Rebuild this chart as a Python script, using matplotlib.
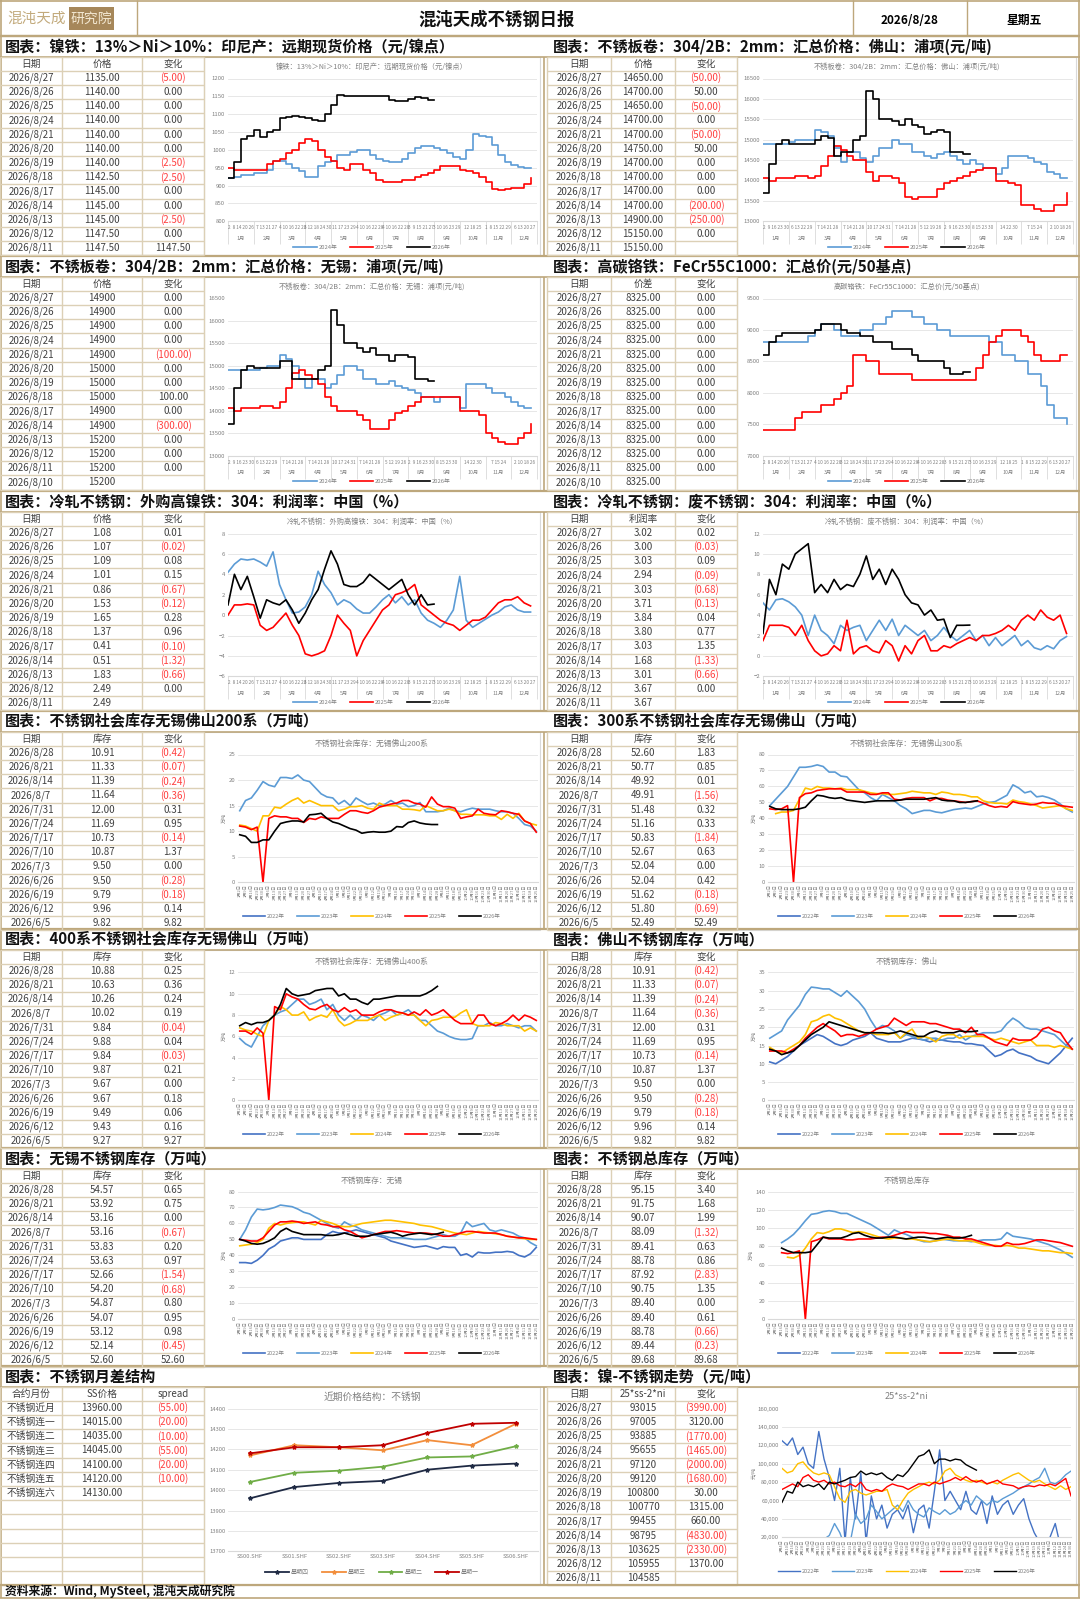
import numpy as np
import pandas as pd
import matplotlib
matplotlib.use('Agg')
import matplotlib.pyplot as plt
from matplotlib.patches import Rectangle
from matplotlib.ticker import FuncFormatter

plt.rcParams['font.family'] = ['Noto Sans CJK SC', 'DejaVu Sans']

# ---------------- data: price charts (weekly, 4 points per month) ----------------
nife_2024 = [920, 925, 930, 930, 935, 935, 945, 970, 970, 960, 950, 940,
             925, 925, 955, 965, 970, 985, 985, 995, 1000, 1000, 985, 975,
             970, 965, 965, 975, 990, 1005, 1010, 1010, 1005, 1000, 990, 980,
             975, 1000, 1045, 1040, 1035, 1015, 985, 965, 958, 952, 950, 950]
nife_2025 = [950, 945, 945, 945, 945, 945, 960, 970, 975, 990, 1000, 1020,
             1030, 1025, 1000, 980, 970, 950, 945, 960, 960, 945, 935, 915,
             910, 910, 910, 915, 915, 925, 930, 935, 945, 955, 955, 955,
             945, 940, 935, 925, 910, 890, 888, 890, 893, 893, 905, 922]
nife_2026 = [920, 965, 1030, 1040, 1055, 1035, 1050, 1055, 1090, 1092, 1095, 1093,
             1090, 1085, 1080, 1100, 1125, 1155, 1150, 1150, 1150, 1152, 1152, 1150,
             1150, 1140, 1138, 1138, 1142, 1148, 1145, 1140, 1140]

fs_2024 = [14900, 14900, 14900, 14900, 14950, 15000, 15000, 15000, 15250, 15200, 15100, 14800,
           14450, 14700, 14700, 14550, 14450, 14600, 14800, 14800, 15000, 14900, 14900, 14700,
           14700, 14600, 14550, 14650, 14700, 14600, 14500, 14400, 14500, 14400, 14300, 14300,
           14150, 14300, 14600, 14600, 14600, 14550, 14450, 14400, 14200, 14150, 14050, 14050]
fs_2025 = [14050, 14000, 14050, 14050, 14050, 14100, 14100, 14050, 14100, 14350, 14600, 14850,
           14750, 14600, 14500, 14500, 14200, 14000, 14100, 14100, 14050, 13950, 13600, 13550,
           13600, 13600, 13600, 13800, 13950, 14000, 14050, 14100, 14200, 14250, 14300, 14300,
           14000, 14000, 13950, 13900, 13400, 13400, 13300, 13250, 13250, 13400, 13400, 13700]
fs_2026 = [13700, 14400, 14900, 15000, 14900, 14900, 14900, 14900, 15000, 15100, 15050, 14600,
           14700, 14700, 15000, 15100, 16200, 16000, 15500, 15500, 15450, 15350, 15500, 15350,
           15300, 15150, 15200, 15250, 15200, 14700, 14700, 14650, 14650]

wx_2024 = [14900, 14900, 14900, 14900, 14900, 14950, 15000, 15000, 15250, 15150, 15000, 14700,
           14500, 14700, 14700, 14500, 14600, 14800, 15000, 15000, 14900, 14700, 14700, 14600,
           14600, 14650, 14550, 14500, 14450, 14400, 14300, 14300, 14200, 14300, 14300, 14300,
           14050, 14600, 14600, 14600, 14500, 14400, 14400, 14300, 14200, 14100, 14050, 14050]
wx_2025 = [14050, 14000, 14050, 14050, 14050, 14100, 14100, 14050, 14200, 14500, 14850, 14900,
           14800, 14700, 14600, 14300, 14100, 14000, 14000, 14000, 13900, 13800, 13600, 13600,
           13600, 13800, 13950, 14000, 14100, 14200, 14300, 14300, 14300, 14300, 14300, 14300,
           14000, 14000, 14000, 13900, 13500, 13400, 13300, 13250, 13250, 13400, 13500, 13700]
wx_2026 = [13700, 14500, 14900, 15000, 14950, 14950, 14950, 14950, 15100, 15100, 14700, 14700,
           14700, 14700, 14900, 15000, 16250, 15900, 15500, 15500, 15400, 15300, 15400, 15250,
           15250, 15100, 15250, 15250, 15200, 14700, 14700, 14650, 14650]

cr_2024 = [8800, 8800, 8800, 8800, 8800, 8800, 8800, 8900, 9000, 9100, 9100, 9000,
           8900, 8900, 8900, 9000, 9000, 9100, 9100, 9200, 9300, 9300, 9300, 9200,
           9200, 9100, 9100, 9000, 9000, 8900, 8900, 8900, 8900, 8900, 8900, 8800,
           8800, 8600, 8600, 8500, 8500, 8300, 8300, 8100, 7800, 7600, 7600, 7500]
cr_2025 = [7400, 7400, 7400, 7400, 7400, 7600, 7700, 7700, 7700, 7800, 7800, 7900,
           8000, 8100, 8600, 8600, 8500, 8500, 8300, 8300, 8300, 8300, 8300, 8200,
           8200, 8200, 8200, 8200, 8200, 8200, 8200, 8200, 8200, 8400, 8600, 8800,
           8900, 9000, 9000, 9000, 8900, 8800, 8600, 8500, 8500, 8500, 8600, 8600]
cr_2026 = [8600, 8800, 8900, 8950, 8950, 8950, 8950, 8950, 9000, 9100, 9100, 9100,
           9000, 8950, 8950, 8900, 8900, 8800, 8800, 8800, 8700, 8700, 8700, 8600,
           8500, 8500, 8500, 8500, 8400, 8300, 8300, 8325, 8325]

pf_2024 = [4.2, 5.0, 5.5, 5.4, 5.5, 5.2, 4.8, 6.2, 3.0, 1.5, 0.2, 0.3,
           0.8, 2.0, 4.3, 3.0, 2.2, 1.0, 1.5, 1.2, 0.6, 0.2, 0.2, 0.8,
           1.5, 2.0, 1.2, 1.8, 1.0, 1.5, 0.2, -0.5, -0.8, -1.2, -0.5, 0.5,
           3.8, -0.5, -1.2, -0.8, -0.4, 0.0, 0.3, 0.8, 1.0, 0.5, 0.3, 0.3]
pf_2025 = [0.0, 1.0, 1.0, 1.1, 1.0, -1.0, -1.5, -1.2, -0.5, 0.2, -1.0, -2.0,
           -3.8, -4.0, -3.8, -3.5, -2.0, 0.0, -0.8, -1.5, -4.0, -2.5, -1.5, -0.5,
           0.5, 1.0, 2.0, 2.2, 2.5, 3.0, 1.0, 0.5, 0.0, -0.5, -0.8, -1.0,
           -1.5, -1.0, -0.5, -0.5, -0.2, 0.5, 1.2, 1.5, 1.5, 1.8, 1.2, 0.9]
pf_2026 = [1.0, 4.0, 2.5, 3.8, 1.8, -0.3, 1.5, 1.2, 1.0, 1.5, 0.5, -0.8,
           0.2, 1.5, 2.5, 4.5, 6.3, 5.0, 3.0, 2.8, 2.8, 3.2, 4.0, 3.5,
           3.0, 2.5, 3.0, 3.5, 2.0, 1.0, 2.0, 1.0, 1.08]

ps_2024 = [5.2, 4.5, 5.5, 5.6, 5.3, 4.8, 4.0, 2.0, 4.0, 2.5, 2.0, 1.2,
           3.0, 2.5, 2.8, 3.0, 1.5, 2.5, 3.5, 2.5, 3.6, 2.0, 3.0, 2.5,
           2.0, 2.5, 1.5, 2.0, 2.8, 2.0, 1.5, 2.0, 2.5, 1.5, 2.0, 1.0,
           1.8, 1.0, 1.5, 2.0, 1.0, 1.5, 0.8, 0.6, 1.0, 0.7, 1.5, 1.9]
ps_2025 = [1.5, 3.0, 3.0, 3.0, 2.8, 2.0, 3.0, 1.5, 0.5, 0.0, 0.2, 1.0,
           0.5, 3.5, 0.2, 0.8, 1.0, 0.5, 0.3, 1.5, 1.0, -0.5, 1.0, 0.2,
           1.5, 2.0, 0.5, 0.5, 1.0, 0.8, 1.2, 1.5, 1.8, 1.5, 2.0, 2.0,
           2.2, 2.5, 3.0, 2.5, 3.5, 4.0, 3.5, 4.5, 3.8, 3.5, 4.0, 2.2]
ps_2026 = [2.2, 7.5, 6.0, 9.0, 8.5, 10.0, 10.5, 11.0, 6.2, 7.0, 6.2, 7.5,
           6.5, 7.0, 6.8, 8.0, 9.8, 7.5, 8.5, 7.0, 8.5, 7.5, 6.0, 5.2,
           5.0, 4.0, 4.5, 3.5, 3.6, 1.8, 3.0, 3.0, 3.02]

# ---------------- data: weekly inventories (万吨) ----------------
nan = np.nan
i200_2022 = []
i200_2023 = [14, 16, 16.5, 18, 19.7, 19, 18.7, 20.5, 20.5, 20.3, 21, 20, 19.7, 18.5, 17.3, 16.7,
             16.5, 15.3, 16, 15, 16.5, 15.8, 15.2, 15.5, 15, 15.3, 16, 15.3, 15.5, 14.8, 15, 15.6,
             13.8, 13.8, 13.8, 14, 14.5, 14, 13.8, 14.2, 14.5, 14.3, 14.3, 14.3, 14, 13.8, 13.8, 13.5,
             12.5, 11.3, 11, 10]
i200_2024 = [11.2, 11, 10.5, 10, 13, 13, 14.7, 14.5, 15.3, 16, 16.5, 15.5, 16, 15.5, 15, 15,
             15, 14, 14.3, 14.8, 14.8, 15, 14.5, 14.3, 15.5, 15, 15, 15, 14.3, 14.3, 14.2, 14,
             15, 14.5, 14, 14, 14.3, 14, 13.3, 13.3, 13.2, 13.2, 13.2, 13, 13, 12.3, 13.3, 12.5,
             13.5, 12, 11.5, 11.2]
i200_2025 = [11, 10.8, 10.3, 10.8, 0, 12.5, 13, 12.8, 12.8, 12.5, 12.5, 11.7, 12.5, 12.3, 12.8, 12.5,
             12.5, 12.5, 13.3, 14, 14, 13.7, 13.5, 14, 14.7, 15, 15.3, 15.5, 16, 16, 15.5, 15.3,
             14.7, 16.7, 15.3, 14.8, 14.8, 14.5, 12.5, 12.8, 13, 14.3, 13.5, 13.3, 13.2, 14, 13.8, 13.5,
             13.3, 12, 11.5, 9.8]
i200_2026 = [9.3, 9, 7.8, 7.8, 8.3, 8.3, 10, 11.5, 11.8, 12, 12, 11.8, 13.2, 13.3, 13.5, 12.5,
             11.8, 11.5, 11, 10.5, 10.2, 9.6, 9.8, 9.9, 9.8, 9.8, 10, 10.9, 10.8, 11.7, 12, 11.6,
             11.4, 11.3, 11.3]

i300_2022 = []
i300_2023 = [48, 52, 56, 60, 66, 72, 72, 72.5, 73.5, 72.5, 69, 69, 66.5, 66, 62, 58,
             56, 53, 51, 55, 53, 51, 48, 46, 43, 44, 45, 45, 44, 43.5, 44.5, 45.5,
             46, 46.5, 46, 47.5, 49, 50, 50.5, 52.5, 54.5, 61, 59, 56, 57, 53.5, 54, 53,
             51.5, 49, 46, 44]
i300_2024 = [nan, 43, 44, 44, 45, 52, 59, 58, 60, 59, 59, 58.5, 59, 58, 58, 58,
             57, 56, 55.5, 55.5, 55, 55, 55.5, 56, 57, 56.5, 56, 56, 55, 56.5, 56, 55,
             55, 54.5, 53.5, 53.5, 51, 50, 49.5, 49.5, 49, 51.5, 50.5, 50, 49, 48, 46.5, 47,
             47.5, 48, 46, 45]
i300_2025 = [46, 45.5, 46, 48, 0, 53, 55.5, 56, 57.5, 58, 58.5, 58.5, 58.5, 56.5, 56.5, 56.5,
             56.5, 55, 55, 56, 56, 52, 51.5, 52.5, 53, 53, 53, 51, 52.5, 52.5, 51.5, 51,
             50.5, 50, 50.5, 51, 49.5, 48, 47, 47.5, 47, 50.5, 49.5, 49, 48.5, 49, 50, 49.5,
             49.5, 48, 47.5, 47]
i300_2026 = [47.5, 46, 45.5, 45.5, 45.5, 46, 47, 51, 54.5, 54, 53, 52.5, 53, 51.5, 51, 50.5,
             50, 50.5, 51, 51, 51, 51, 51.5, 52, 52, 52, 52, 52.5, 53, 51.5, 51, 51,
             50, 50, 50.5, 51]

i400_2022 = []
i400_2023 = [5.8, 5.3, 5.0, 6.0, 7.0, 7.5, 8.0, 8.3, 8.5, 9.0, 9.5, 9.5, 9.0, 9.2, 9.5, 8.5,
             9.0, 8.0, 7.5, 8.0, 7.5, 8.0, 7.8, 7.5, 8.0, 8.2, 8.5, 8.0, 8.2, 8.5, 8.0, 7.5,
             7.5, 7.0, 6.5, 6.3, 6.0, 5.8, 5.7, 5.7, 5.8, 7.0, 7.0, 7.3, 7.0, 7.0, 7.2, 7.0,
             6.8, 7.0, 7.0, 6.5]
i400_2024 = [6.8, 6.6, 6.5, 6.2, 6.0, 7.5, 8.0, 8.8, 8.5, 8.0, 8.0, 8.3, 7.5, 7.8, 8.0, 7.8,
             8.5, 7.5, 7.0, 7.2, 7.5, 7.5, 7.5, 7.8, 8.0, 7.5, 7.8, 8.0, 8.2, 8.0, 8.0, 7.5,
             7.0, 7.5, 7.6, 7.8, 7.8, 7.8, 8.2, 8.5, 7.2, 7.0, 7.0, 7.0, 7.3, 7.2, 7.0, 7.0,
             7.0, 6.5, 6.8, 6.5]
i400_2025 = [6.5, 6.5, 6.2, 6.8, 6.3, 0, 8.8, 8.5, 10.0, 9.7, 9.5, 9.0, 8.6, 8.5, 8.8, 9.0,
             8.5, 8.3, 8.7, 8.3, 8.5, 8.0, 8.0, 8.0, 8.3, 8.5, 8.5, 8.3, 8.2, 8.0, 8.3, 8.0,
             8.5, 8.0, 8.2, 8.5, 8.0, 7.5, 7.2, 7.2, 7.2, 8.0, 8.0, 7.2, 7.0, 7.2, 7.5, 8.0,
             7.5, 8.0, 7.8, 7.5]
i400_2026 = [7.0, 7.3, 7.1, 7.3, 7.3, 7.5, 8.0, 9.0, 10.5, 10.0, 9.8, 9.9, 10.0, 10.3, 10.4, 10.5,
             10.5, 9.8, 10.0, 9.5, 9.5, 9.2, 9.0, 9.5, 9.5, 9.6, 9.7, 9.8, 9.8, 9.8, 9.8, 9.8,
             10.0, 10.3, 10.7]

ifs_2022 = [10.5, 10, 11, 12, 13.5, 15, 16, 17, 18, 17.5, 16.5, 15.5, 15, 15.5, 16.5, 17,
            17.5, 18.5, 17, 16.5, 16, 16, 16, 16.5, 17, 16.8, 16.5, 16, 16.5, 16.5, 16.2, 16,
            16, 15.5, 15.5, 15.2, 15, 13.5, 12, 12.5, 13.5, 14, 13, 12.5, 12, 11, 10.5, 10,
            11.5, 13, 15, 17]
ifs_2023 = [17, 18, 19, 22, 24, 26, 29, 31, 30.8, 30.5, 30.5, 29.5, 28.5, 30, 28.5, 27,
            25, 22, 19.5, 20.5, 20, 19, 17, 18, 17.5, 17, 16.5, 17, 17, 16.5, 17, 17,
            18, 16.5, 17.5, 18, 18.5, 18.5, 18.5, 19, 21, 22.5, 21.5, 20, 19.5, 19.5, 19, 18.5,
            18, 16.5, 15, 14]
ifs_2024 = [14.5, 13.5, 13, 14, 15, 16, 18, 21.5, 22, 23, 23.5, 22.5, 22, 21, 20, 19,
            18.5, 18.5, 18, 18, 18, 18.5, 17, 18.5, 19.5, 17, 17.5, 17, 16, 17.5, 18, 18,
            17, 17.5, 17.5, 17.5, 17.5, 17, 16.5, 17, 16.5, 16, 15.5, 16, 16.5, 15, 15, 15,
            14.5, 15, 14.5, 14]
ifs_2025 = [13.5, 13.5, 13.5, 13, 14, 15, 17, 18.5, 20, 21, 20, 19, 17.5, 18, 18, 17.5,
            18, 18.5, 19.5, 20, 20.5, 22.5, 21.5, 20.5, 21.5, 21.5, 21.5, 21, 21, 20.5, 20, 19.5,
            19.5, 18.5, 20, 18, 18, 17, 16, 15.5, 15, 17, 16.5, 16.5, 16.5, 17.5, 19.5, 20,
            19, 18.5, 16, 14]
ifs_2026 = [14, 13.5, 12.5, 13, 13.5, 15, 16.5, 18, 19, 20, 21.5, 21, 20.5, 20, 19.5, 19,
            18.5, 18.5, 18.5, 18.5, 18.3, 18.5, 19, 18.5, 18, 17.5, 17.5, 18.5, 19, 18.5, 18.5, 18.5,
            19, 18.8, 18.8, 19.0]

iwx_2022 = [35.5, 35.5, 35, 37, 40, 44, 46, 49, 50, 51, 51, 50, 50, 50, 50, 53,
            55, 54, 54, 55, 56, 55, 54, 53, 52, 51, 49, 48, 47, 46, 45, 45.5,
            46, 45, 44, 45.5, 45, 45, 40, 41, 39, 42, 41.5, 41.5, 42, 42, 42.5, 42,
            40, 39, 41, 45]
iwx_2023 = [50, 56, 64, 69, 68.5, 69, 70, 71.5, 71, 70.5, 69, 67, 66, 64, 62, 60,
            58, 57, 61, 59, 58, 56, 55, 54, 53, 52, 51, 51, 51, 50.5, 50, 50,
            50, 51, 52, 53, 52, 52, 54, 61, 58, 59, 60, 56, 55, 56, 55, 54,
            52, 51, 48, 46]
iwx_2024 = [46, 46.5, 47, 48, 50, 57, 60, 59, 60, 60.5, 61, 61, 60, 59, 62, 61,
            60, 58.5, 58, 58, 59, 60, 60.5, 61, 61.5, 62, 62, 61.5, 61, 60.5, 60, 59,
            58.5, 58, 57, 56, 55, 54, 53.5, 53, 54, 55, 54.5, 54, 53.5, 53, 52, 51.5,
            51, 50.5, 50, 50]
iwx_2025 = [50, 49.5, 49, 49, 51, 55, 59, 61, 61, 61.5, 61, 60, 60.5, 61, 59.5, 59,
            58, 58, 56, 55, 53, 51, 52, 53, 54, 55, 55, 55.5, 55, 54.5, 54, 54,
            54, 53.5, 53, 52, 52, 53, 54, 55, 55, 54.5, 54, 54, 54, 53, 52, 51.5,
            51, 51, 50.5, 50]
iwx_2026 = [50, 49, 47.5, 47, 47.5, 49, 51, 55, 57, 55, 54, 53, 53, 53, 53, 52.5,
            52.5, 53, 54, 53, 52, 52, 52, 53, 53.5, 54, 54.5, 53.5, 52, 53, 53.5, 54,
            53.5, 53, 53.5, 54.5]

itot_2022 = []
itot_2023 = [nan, nan, 84, 88, 93, 100, 108, 115, 116, 118, 119, 118, 116, 116, 113, 110,
             107, 104, 100, 96, 92, 98, 95, 93, 90, 87, 85, 85, 86, 88, 87, 86,
             86, 86, 85, 86, 87, 87, 87, 88, 95, 91, 90, 89, 88, 86, 84, 82,
             79, 76, 72, 68]
itot_2024 = [nan, nan, nan, 68, 67, 70, 78, 88, 95, 94, 96, 99, 99, 97, 95, 96,
             95, 93, 91, 89, 88, 89, 89, 88, 88, 87, 86, 85, 86, 87, 88, 87,
             86, 86, 86, 84, 82, 81, 81, 80, 81, 80, 78, 78, 77, 76, 75, 75,
             74, 73, 73, 72]
itot_2025 = [nan, nan, 73, 72, 73, 75, 0, 85, 87, 90, 88, 88, 88, 87, 87, 88,
             88, 88, 89, 90, 90, 92, 94, 96, 95, 95, 95, 94, 94, 93, 92, 90,
             90, 88, 88, 86, 84, 82, 80, 80, 84, 82, 82, 83, 85, 87, 87, 86,
             85, 84, 82, 80]
itot_2026 = [nan, nan, 78, 75, 73, 73, 73, 74, 82, 90, 89, 89, 89, 91, 94, 95,
             92, 90, 89, 89, 90, 90, 89, 88, 89, 90, 90, 89, 88, 89, 90, 89,
             89, 90, 92]

# ---------------- data: 25*ss-2*ni (千元/吨) ----------------
sn_2022 = [125, 120, 128, 110, 118, 100, 95, 135, 105, 85, 60, 95, 15, 85, 40, 90,
           15, 65, 40, 55, 30, 45, 50, 40, 55, 25, 50, 55, 30, 70, 115, 60,
           70, 60, 50, 70, 50, 45, 60, 35, 65, 45, 55, 60, 45, 55, 62, 40,
           25, 15, 12, 20, 35, 10, 8, 5]
sn_2023 = [10, 10, 10, 10, 10, 12, 10, 15, 18, 22, 35, 25, 10, 15, 45, 35,
           40, 55, 48, 40, 45, 50, 55, 48, 60, 50, 45, 42, 52, 48, 45, 50,
           45, 48, 55, 60, 55, 65, 60, 55, 60, 58, 62, 65, 68, 72, 75, 78,
           82, 85, 95, 80, 78, 82, 88, 92]
sn_2024 = [95, 90, 92, 100, 102, 95, 90, 88, 90, 88, 75, 62, 58, 70, 72, 68,
           66, 68, 70, 70, 72, 55, 50, 60, 68, 72, 75, 78, 80, 78, 82, 92,
           95, 88, 85, 82, 80, 82, 80, 78, 80, 78, 82, 85, 88, 90, 86, 82,
           80, 82, 78, 75, 72, 76, 72, 75]
sn_2025 = [72, 75, 78, 75, 85, 88, 82, 80, 82, 78, 80, 76, 75, 78, 75, 80,
           72, 70, 72, 70, 75, 78, 76, 75, 72, 75, 78, 78, 76, 80, 78, 80,
           82, 85, 82, 86, 82, 80, 82, 78, 80, 82, 78, 77, 76, 73, 75, 76,
           75, 77, 76, 78, 76, 80, 84, 65]
sn_2026 = [58, 70, 68, 80, 75, 77, 75, 78, 72, 80, 78, 80, 82, 85, 86, 92,
           88, 90, 88, 90, 85, 82, 88, 86, 92, 100, 108, 110, 115, 100, 105, 105,
           103, 105, 104, 99, 96, 93]

# ---------------- data: month spread structure ----------------
contracts = ['SS00.SHF', 'SS01.SHF', 'SS02.SHF', 'SS03.SHF', 'SS04.SHF', 'SS05.SHF', 'SS06.SHF']
curve_thu = [13960, 14015, 14035, 14045, 14100, 14120, 14130]
curve_wed = [14170, 14220, 14210, 14195, 14245, 14220, 14325]
curve_tue = [14040, 14085, 14095, 14115, 14160, 14165, 14215]
curve_mon = [14180, 14210, 14210, 14220, 14280, 14325, 14330]

# ---------------- data: tables ----------------
d13 = ['8/27', '8/26', '8/25', '8/24', '8/21', '8/20', '8/19', '8/18', '8/17', '8/14', '8/13', '8/12', '8/11']
d14 = d13 + ['8/10']
dwk = ['8/28', '8/21', '8/14', '8/7', '7/31', '7/24', '7/17', '7/10', '7/3', '6/26', '6/19', '6/12', '6/5']

t_nife_v = [1135, 1140, 1140, 1140, 1140, 1140, 1140, 1142.5, 1145, 1145, 1145, 1147.5, 1147.5]
t_nife_c = [-5, 0, 0, 0, 0, 0, -2.5, -2.5, 0, 0, -2.5, 0, 1147.5]
t_fs_v = [14650, 14700, 14650, 14700, 14700, 14750, 14700, 14700, 14700, 14700, 14900, 15150, 15150]
t_fs_c = [-50, 50, -50, 0, -50, 50, 0, 0, 0, -200, -250, 0, None]
t_wx_v = [14900, 14900, 14900, 14900, 14900, 15000, 15000, 15000, 14900, 14900, 15200, 15200, 15200, 15200]
t_wx_c = [0, 0, 0, 0, -100, 0, 0, 100, 0, -300, 0, 0, 0, None]
t_cr_v = [8325] * 14
t_cr_c = [0] * 13 + [None]
t_pf_v = [1.08, 1.07, 1.09, 1.01, 0.86, 1.53, 1.65, 1.37, 0.41, 0.51, 1.83, 2.49, 2.49]
t_pf_c = [0.01, -0.02, 0.08, 0.15, -0.67, -0.12, 0.28, 0.96, -0.10, -1.32, -0.66, 0.00, None]
t_ps_v = [3.02, 3.00, 3.03, 2.94, 3.03, 3.71, 3.84, 3.80, 3.03, 1.68, 3.01, 3.67, 3.67]
t_ps_c = [0.02, -0.03, 0.09, -0.09, -0.68, -0.13, 0.04, 0.77, 1.35, -1.33, -0.66, 0.00, None]
t_200_v = [10.91, 11.33, 11.39, 11.64, 12.00, 11.69, 10.73, 10.87, 9.50, 9.50, 9.79, 9.96, 9.82]
t_200_c = [-0.42, -0.07, -0.24, -0.36, 0.31, 0.95, -0.14, 1.37, 0.00, -0.28, -0.18, 0.14, 9.82]
t_300_v = [52.60, 50.77, 49.92, 49.91, 51.48, 51.16, 50.83, 52.67, 52.04, 52.04, 51.62, 51.80, 52.49]
t_300_c = [1.83, 0.85, 0.01, -1.56, 0.32, 0.33, -1.84, 0.63, 0.00, 0.42, -0.18, -0.69, 52.49]
t_400_v = [10.88, 10.63, 10.26, 10.02, 9.84, 9.88, 9.84, 9.87, 9.67, 9.67, 9.49, 9.43, 9.27]
t_400_c = [0.25, 0.36, 0.24, 0.19, -0.04, 0.04, -0.03, 0.21, 0.00, 0.18, 0.06, 0.16, 9.27]
t_fsi_v = [10.91, 11.33, 11.39, 11.64, 12.00, 11.69, 10.73, 10.87, 9.50, 9.50, 9.79, 9.96, 9.82]
t_fsi_c = [-0.42, -0.07, -0.24, -0.36, 0.31, 0.95, -0.14, 1.37, 0.00, -0.28, -0.18, 0.14, 9.82]
t_wxi_v = [54.57, 53.92, 53.16, 53.16, 53.83, 53.63, 52.66, 54.20, 54.87, 54.07, 53.12, 52.14, 52.60]
t_wxi_c = [0.65, 0.75, 0.00, -0.67, 0.20, 0.97, -1.54, -0.68, 0.80, 0.95, 0.98, -0.45, 52.60]
t_tot_v = [95.15, 91.75, 90.07, 88.09, 89.41, 88.78, 87.92, 90.75, 89.40, 89.40, 88.78, 89.44, 89.68]
t_tot_c = [3.40, 1.68, 1.99, -1.32, 0.63, 0.86, -2.83, 1.35, 0.00, 0.61, -0.66, -0.23, 89.68]
t_sp_n = ['不锈钢近月', '不锈钢连一', '不锈钢连二', '不锈钢连三', '不锈钢连四', '不锈钢连五', '不锈钢连六']
t_sp_v = [13960, 14015, 14035, 14045, 14100, 14120, 14130]
t_sp_c = [-55, -20, -10, -55, -20, -10, None]
t_sn_v = [93015, 97005, 93885, 95655, 97120, 99120, 100800, 100770, 99455, 98795, 103625, 105955, 104585]
t_sn_c = [-3990, 3120, -1770, -1465, -2000, -1680, 30, 1315, 660, -4830, -2330, 1370, None]

MONTHS = ['1月', '2月', '3月', '4月', '5月', '6月', '7月', '8月', '9月', '10月', '11月', '12月']
DAYS_A = ['2  8 14 20 26', '7 13 21 27', '4 10 16 22 28', '3 12 18 24 30', '11 17 23 29', '4 10 16 22 28',
          '4 10 16 22 28', '3  9 15 21 27', '3 10 16 23 29', '12 18 25', '1  8 15 22 29', '6 13 20 27']
DAYS_B = ['2  9 16 23 30', '6 13 22 29', '7 14 21 28', '7 14 21 28', '10 17 24 31', '7 14 21 28',
          '5 12 19 26', '2  9 16 23 30', '8 15 23 30', '14 22 30', '7 15 24', '2 10 18 26']
wk_labels = [f'{d.month}月{d.day}日' for d in pd.date_range('2026-01-02', periods=52, freq='7D')]
sn_labels = [f'{d.month}月{d.day}日' for d in pd.date_range('2026-01-04', periods=56, freq='6D')]

# ---------------- styles ----------------
TAN = '#bda77c'
GRID_T = '#dcd0b6'
BOX = '#d9d9d9'
TXT = '#404040'
NEG = '#ff4040'
GRAY = '#808080'
C22, C23, C24, C25, C26 = '#4472c4', '#5b9bd5', '#ffc000', '#ff0000', '#000000'

W, H = 1080, 1599
fig = plt.figure(figsize=(W / 100, H / 100), dpi=100)
bg = fig.add_axes([0, 0, 1, 1])
bg.set_xlim(0, W)
bg.set_ylim(H, 0)
bg.axis('off')


def px_axes(l, t, r, b):
    return fig.add_axes([l / W, 1 - b / H, (r - l) / W, (b - t) / H])


def hline(y, x0=0, x1=W, color=TAN, lw=1.4):
    bg.plot([x0, x1], [y, y], color=color, lw=lw, solid_capstyle='butt')


def vline(x, y0, y1, color=TAN, lw=1.4):
    bg.plot([x, x], [y0, y1], color=color, lw=lw, solid_capstyle='butt')


def fmt_chg(v):
    if v is None:
        return '', TXT
    if v < 0:
        return f'({-v:.2f})', NEG
    return f'{v:.2f}', TXT


PITCH = 14.2


def draw_table(cols, top, header, c1, c2, fmt2, c3, nrows):
    bottom = top + nrows * PITCH
    for k in range(nrows + 1):
        hline(top + k * PITCH, cols[0], cols[-1], GRID_T, 1.0)
    for x in cols:
        vline(x, top, bottom, GRID_T, 1.0)
    for j, h in enumerate(header):
        bg.text((cols[j] + cols[j + 1]) / 2, top + PITCH / 2, h, ha='center', va='center',
                fontsize=7, color=TXT)
    for i in range(len(c1)):
        yc = top + (i + 1.5) * PITCH
        s3, col3 = fmt_chg(c3[i])
        cells = [(c1[i], TXT), (fmt2.format(c2[i]), TXT), (s3, col3)]
        for j, (s, c) in enumerate(cells):
            bg.text((cols[j] + cols[j + 1]) / 2, yc, s, ha='center', va='center',
                    fontsize=7, color=c)
    return bottom


def style_axes(ax):
    ax.set_facecolor('none')
    for s in ['left', 'right', 'top']:
        ax.spines[s].set_visible(False)
    ax.spines['bottom'].set_color(BOX)
    ax.spines['bottom'].set_linewidth(0.8)
    ax.tick_params(length=0, labelsize=4.3, labelcolor=GRAY, pad=2)
    ax.yaxis.grid(True, color='#e3e3e3', lw=0.6)
    ax.set_axisbelow(True)


def chart_box(x0, y0, x1, y1, title, ty, fs=5.2):
    bg.add_patch(Rectangle((x0, y0), x1 - x0, y1 - y0, facecolor='white', edgecolor=BOX,
                           lw=0.8, zorder=0))
    bg.text((x0 + x1) / 2, ty, title, ha='center', va='center', fontsize=fs, color=GRAY)


def bottom_legend(ax, x0, x1, y, ncol, fs=4.2):
    ax.legend(loc='center', bbox_to_anchor=((x0 + x1) / 2 / W, 1 - y / H),
              bbox_transform=fig.transFigure, ncol=ncol, frameon=False, fontsize=fs,
              handlelength=4, columnspacing=2.2, labelcolor=GRAY, handletextpad=0.3)


def price_chart(x0, y0, x1, y1, title, series, ylim, yticks, days, step=True, lpad=24):
    l, t, r, b = x0 + lpad, y0 + 22, x1 - 3, y1 - 34
    chart_box(x0, y0, x1, y1, title, y0 + 10)
    ax = px_axes(l, t, r, b)
    for vals, color, label in series:
        v = np.asarray(vals, float)
        x = np.arange(len(v)) / 4
        ax.plot(x, v, color=color, lw=1.2, label=label,
                drawstyle='steps-post' if step else 'default')
    ax.set_xlim(0, 12)
    ax.set_ylim(*ylim)
    ax.set_yticks(yticks)
    ax.set_xticks([])
    style_axes(ax)
    for m in range(12):
        xm = l + (m + 0.5) / 12 * (r - l)
        bg.text(xm, b + 6.5, days[m], ha='center', va='center', fontsize=3.4, color=GRAY)
        bg.text(xm, b + 17, MONTHS[m], ha='center', va='center', fontsize=3.8, color=GRAY)
    for m in range(13):
        xb = l + m / 12 * (r - l)
        vline(xb, b, b + 23, BOX, 0.6)
    bottom_legend(ax, x0, x1, y1 - 8, len(series))
    return ax


def inv_chart(x0, y0, x1, y1, title, series, ylim, yticks, lpad=34):
    l, t, r, b = x0 + lpad, y0 + 23, x1 - 2, y1 - 48
    chart_box(x0, y0, x1, y1, title, y0 + 12, 5.6)
    ax = px_axes(l, t, r, b)
    for vals, color, label in series:
        v = np.asarray(vals, float)
        ax.plot(np.arange(len(v)), v, color=color, lw=1.2, label=label)
    ax.set_xlim(-0.3, len(wk_labels) - 0.7)
    ax.set_ylim(*ylim)
    ax.set_yticks(yticks)
    ax.set_xticks(np.arange(len(wk_labels)))
    ax.set_xticklabels(wk_labels, rotation=90, fontsize=3.0)
    style_axes(ax)
    ax.tick_params(axis='x', labelsize=3.0, pad=1.5)
    ax.set_ylabel('万吨', fontsize=3.6, color=GRAY, labelpad=1)
    bottom_legend(ax, x0, x1, y1 - 14, len(series), 4.0)
    return ax


def five_years(a, b, c, d, e):
    return [(a, C22, '2022年'), (b, C23, '2023年'), (c, C24, '2024年'),
            (d, C25, '2025年'), (e, C26, '2026年')]


# ---------------- header ----------------
hline(0.7, lw=1.2)
hline(36, lw=1.6)
vline(0.7, 0, H - 1, TAN, 1.2)
vline(W - 1.5, 0, H - 1, TAN, 1.2)
bg.text(7, 19, '混沌天成', ha='left', va='center', fontsize=10.5, color='#c2aa7c')
bg.add_patch(Rectangle((69, 7), 45, 23, facecolor='#a6875a', edgecolor='none'))
bg.text(91.5, 18.5, '研究院', ha='center', va='center', fontsize=10, color='#f3e8d2')
vline(137, 0, 36, TAN, 1.0)
bg.text(497, 20, '混沌天成不锈钢日报', ha='center', va='center', fontsize=12.5,
        fontweight='bold', color='#111111')
vline(853, 0, 36, TAN, 1.0)
vline(967, 0, 36, TAN, 1.0)
bg.text(910, 20, '2026/8/28', ha='center', va='center', fontsize=8.5, fontweight='bold')
bg.text(1024, 20, '星期五', ha='center', va='center', fontsize=8.5, fontweight='bold')

# ---------------- rows ----------------
ROW_TOP = [36, 256, 491, 711, 929, 1148, 1366]
NROWS = [14, 15, 14, 14, 14, 14, 14]
TITLES = [
    ('图表：镍铁：13%＞Ni＞10%：印尼产：远期现货价格（元/镍点）', '图表：不锈板卷：304/2B：2mm：汇总价格：佛山：浦项(元/吨)'),
    ('图表：不锈板卷：304/2B：2mm：汇总价格：无锡：浦项(元/吨)', '图表：高碳铬铁：FeCr55C1000：汇总价(元/50基点)'),
    ('图表：冷轧不锈钢：外购高镍铁：304：利润率：中国（%）', '图表：冷轧不锈钢：废不锈钢：304：利润率：中国（%）'),
    ('图表：不锈钢社会库存无锡佛山200系（万吨）', '图表：300系不锈钢社会库存无锡佛山（万吨）'),
    ('图表：400系不锈钢社会库存无锡佛山（万吨）', '图表：佛山不锈钢库存（万吨）'),
    ('图表：无锡不锈钢库存（万吨）', '图表：不锈钢总库存（万吨）'),
    ('图表：不锈钢月差结构', '图表：镍-不锈钢走势（元/吨）'),
]
LC = [0, 62, 142, 204]
RC = [547, 611, 675, 737]
LX0, LX1 = 204, 540
RX0, RX1 = 737, 1076

tops = []
for k, y in enumerate(ROW_TOP):
    hline(y, lw=1.6)
    hline(y + 20.5, lw=1.2)
    bg.text(5, y + 10.5, TITLES[k][0], ha='left', va='center', fontsize=10.9,
            fontweight='bold', color='#111111')
    bg.text(553, y + 10.5, TITLES[k][1], ha='left', va='center', fontsize=10.9,
            fontweight='bold', color='#111111')
    top = y + 20.5
    tops.append((top, top + NROWS[k] * PITCH))
    vline(543.5, top, top + NROWS[k] * PITCH, TAN, 1.2)

H3 = ['日期', '价格', '变化']
HI = ['日期', '库存', '变化']
date = lambda ds: ['2026/' + d for d in ds]

# row 1
t, b = tops[0]
draw_table(LC, t, H3, date(d13), t_nife_v, '{:.2f}', t_nife_c, 14)
price_chart(LX0, t, LX1, b, '镍铁：13%＞Ni＞10%：印尼产：远期现货价格（元/镍点）',
            [(nife_2024, C23, '2024年'), (nife_2025, C25, '2025年'), (nife_2026, C26, '2026年')],
            (800, 1200), range(800, 1201, 50), DAYS_A)
draw_table(RC, t, H3, date(d13), t_fs_v, '{:.2f}', t_fs_c, 14)
price_chart(RX0, t, RX1, b, '不锈板卷：304/2B：2mm：汇总价格：佛山：浦项(元/吨)',
            [(fs_2024, C23, '2024年'), (fs_2025, C25, '2025年'), (fs_2026, C26, '2026年')],
            (13000, 16500), range(13000, 16501, 500), DAYS_B, lpad=26)

# row 2
t, b = tops[1]
draw_table(LC, t, H3, date(d14), t_wx_v, '{:.0f}', t_wx_c, 15)
price_chart(LX0, t, LX1, b, '不锈板卷：304/2B：2mm：汇总价格：无锡：浦项(元/吨)',
            [(wx_2024, C23, '2024年'), (wx_2025, C25, '2025年'), (wx_2026, C26, '2026年')],
            (13000, 16500), range(13000, 16501, 500), DAYS_B)
draw_table(RC, t, ['日期', '价差', '变化'], date(d14), t_cr_v, '{:.2f}', t_cr_c, 15)
price_chart(RX0, t, RX1, b, '高碳铬铁：FeCr55C1000：汇总价(元/50基点)',
            [(cr_2024, C23, '2024年'), (cr_2025, C25, '2025年'), (cr_2026, C26, '2026年')],
            (7000, 9500), range(7000, 9501, 500), DAYS_A, lpad=26)

# row 3
t, b = tops[2]
draw_table(LC, t, H3, date(d13), t_pf_v, '{:.2f}', t_pf_c, 14)
price_chart(LX0, t, LX1, b, '冷轧不锈钢：外购高镍铁：304：利润率：中国（%）',
            [(pf_2024, C23, '2024年'), (pf_2025, C25, '2025年'), (pf_2026, C26, '2026年')],
            (-6, 8), range(-6, 9, 2), DAYS_A, step=False)
draw_table(RC, t, ['日期', '利润率', '变化'], date(d13), t_ps_v, '{:.2f}', t_ps_c, 14)
price_chart(RX0, t, RX1, b, '冷轧不锈钢：废不锈钢：304：利润率：中国（%）',
            [(ps_2024, C23, '2024年'), (ps_2025, C25, '2025年'), (ps_2026, C26, '2026年')],
            (-2, 12), range(-2, 13, 2), DAYS_A, step=False, lpad=26)

# row 4
t, b = tops[3]
draw_table(LC, t, HI, date(dwk), t_200_v, '{:.2f}', t_200_c, 14)
inv_chart(LX0, t, LX1, b, '不锈钢社会库存：无锡佛山200系',
          five_years(i200_2022, i200_2023, i200_2024, i200_2025, i200_2026), (0, 25), range(0, 26, 5))
draw_table(RC, t, HI, date(dwk), t_300_v, '{:.2f}', t_300_c, 14)
inv_chart(RX0, t, RX1, b, '不锈钢社会库存：无锡佛山300系',
          five_years(i300_2022, i300_2023, i300_2024, i300_2025, i300_2026), (0, 80), range(0, 81, 10),
          lpad=31)

# row 5
t, b = tops[4]
draw_table(LC, t, HI, date(dwk), t_400_v, '{:.2f}', t_400_c, 14)
inv_chart(LX0, t, LX1, b, '不锈钢社会库存：无锡佛山400系',
          five_years(i400_2022, i400_2023, i400_2024, i400_2025, i400_2026), (0, 12), range(0, 13, 2))
draw_table(RC, t, HI, date(dwk), t_fsi_v, '{:.2f}', t_fsi_c, 14)
inv_chart(RX0, t, RX1, b, '不锈钢库存：佛山',
          five_years(ifs_2022, ifs_2023, ifs_2024, ifs_2025, ifs_2026), (0, 35), range(0, 36, 5),
          lpad=31)

# row 6
t, b = tops[5]
draw_table(LC, t, HI, date(dwk), t_wxi_v, '{:.2f}', t_wxi_c, 14)
inv_chart(LX0, t, LX1, b, '不锈钢库存：无锡',
          five_years(iwx_2022, iwx_2023, iwx_2024, iwx_2025, iwx_2026), (0, 80), range(0, 81, 10))
draw_table(RC, t, HI, date(dwk), t_tot_v, '{:.2f}', t_tot_c, 14)
inv_chart(RX0, t, RX1, b, '不锈钢总库存',
          five_years(itot_2022, itot_2023, itot_2024, itot_2025, itot_2026), (0, 140), range(0, 141, 20),
          lpad=31)

# row 7 left: spread structure
t, b = tops[6]
draw_table(LC, t, ['合约月份', 'SS价格', 'spread'], t_sp_n, t_sp_v, '{:.2f}', t_sp_c, 14)
chart_box(LX0, t, LX1, b, '近期价格结构：不锈钢', t + 10, 7)
ax = px_axes(228, t + 22, 538, b - 34)
xs = np.arange(len(contracts))
for vals, color, label in [(curve_thu, '#1f2a44', '星期四'), (curve_wed, '#f28e3c', '星期三'),
                           (curve_tue, '#70ad47', '星期二'), (curve_mon, '#c00000', '星期一')]:
    ax.plot(xs, vals, color=color, lw=1.3, marker='*', ms=3, label=label)
ax.set_xlim(-0.5, 6.5)
ax.set_ylim(13700, 14400)
ax.set_yticks(range(13700, 14401, 100))
ax.set_xticks(xs)
ax.set_xticklabels(contracts)
style_axes(ax)
ax.tick_params(labelsize=4.2)
bottom_legend(ax, LX0, LX1, b - 13, 4, 4.3)

# row 7 right: 25*ss-2*ni
draw_table(RC, t, ['日期', '25*ss-2*ni', '变化'], date(d13), t_sn_v, '{:.0f}', t_sn_c, 14)
chart_box(RX0, t, RX1, b, '25*ss-2*ni', t + 10, 6.5)
ax = px_axes(RX0 + 45, t + 22, RX1 - 5, b - 48)
for vals, color, label in five_years(sn_2022, sn_2023, sn_2024, sn_2025, sn_2026):
    v = np.asarray(vals, float) * 1000
    ax.plot(np.arange(len(v)), v, color=color, lw=1.0, label=label)
ax.set_xlim(0, len(sn_labels) - 1)
ax.set_ylim(20000, 160000)
ax.set_yticks(range(20000, 160001, 20000))
ax.yaxis.set_major_formatter(FuncFormatter(lambda v, p: f'{v:,.0f}'))
ax.set_xticks(np.arange(len(sn_labels)))
ax.set_xticklabels(sn_labels, rotation=90)
style_axes(ax)
ax.tick_params(axis='x', labelsize=3.0, pad=1.5)
ax.set_ylabel('元/吨', fontsize=3.6, color=GRAY, labelpad=1)
bottom_legend(ax, RX0, RX1, b - 14, 5, 4.0)

# ---------------- footer ----------------
hline(1584.5, lw=1.6)
hline(1598, lw=1.2)
bg.text(5, 1591.5, '资料来源：Wind, MySteel, 混沌天成研究院', ha='left', va='center',
        fontsize=8.5, fontweight='bold', fontstyle='italic', color='#111111')

fig.savefig('out.png', dpi=100)
